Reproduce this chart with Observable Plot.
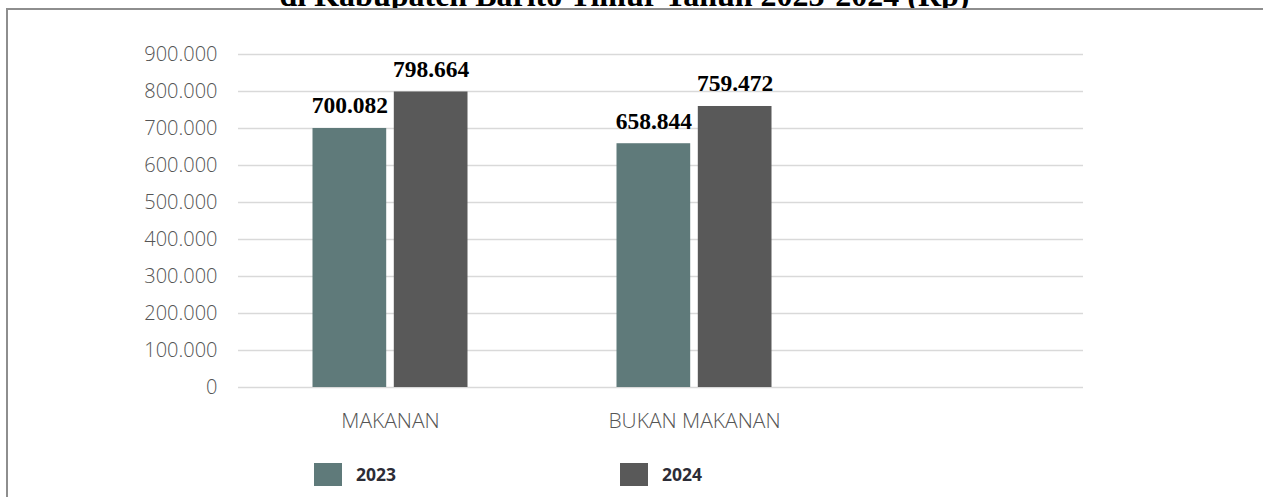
<!DOCTYPE html>
<html>
<head>
<meta charset="utf-8">
<script src="https://cdn.jsdelivr.net/npm/d3@7"></script>
<script src="https://cdn.jsdelivr.net/npm/@observablehq/plot@0.6"></script>
<style>
  html, body { margin: 0; padding: 0; background: #fff; width: 1263px; height: 497px; overflow: hidden; }
  #title { position: absolute; left: 0; top: -21px; width: 1249px; text-align: center; white-space: nowrap;
           font: bold 32px/32px "Liberation Serif", "Times New Roman", serif; color: #000; z-index: 1; }
  #box { position: absolute; left: 6px; top: 8px; width: 1400px; height: 700px; border: 2px solid #8e8e8e;
         background: #fff; z-index: 2; }
  #chart { position: absolute; left: 0; top: 0; z-index: 3; }
  #legend { position: absolute; left: 314px; top: 462px; display: flex; z-index: 4;
            font: bold 17.5px "Open Sans", "Noto Sans", sans-serif; color: #2c2c36; }
  .item { display: flex; align-items: center; width: 306px; }
  .sw { width: 28px; height: 23px; margin-right: 14px; }
</style>
</head>
<body>
<div id="title">di Kabupaten Barito Timur Tahun 2023-2024 (Rp)</div>
<div id="box"></div>
<div id="chart"></div>
<div id="legend"></div>
<script>
const categories = ["MAKANAN", "BUKAN MAKANAN"];
const years = ["2023", "2024"];
const values2023 = [700082, 658844];
const values2024 = [798664, 759472];
const yTicks = [0, 100000, 200000, 300000, 400000, 500000, 600000, 700000, 800000, 900000];
const yearColors = ["#5f7a7a", "#595959"];

const series = {"2023": values2023, "2024": values2024};
const data = categories.flatMap((c, i) => years.map(y => ({category: c, year: y, value: series[y][i]})));
const fmt = v => v.toLocaleString("id-ID");

const W = 1263, H = 497;
const band = 304.3, barW = 74, gap = 7.3;
const half = band / 2;
const insets = {
  "2023": {insetLeft: half - gap / 2 - barW, insetRight: half + gap / 2},
  "2024": {insetLeft: half + gap / 2, insetRight: half - gap / 2 - barW}
};
const offs = {"2023": -(gap / 2 + barW / 2), "2024": gap / 2 + barW / 2};

const marks = [
  Plot.gridY(yTicks, {stroke: "#d9d9d9", strokeOpacity: 1, strokeWidth: 1.5}),
  Plot.axisY({ticks: yTicks, tickSize: 0, tickPadding: 21, tickFormat: fmt, fontSize: 20,
              fontFamily: "'Open Sans', sans-serif", fontWeight: 300, fill: "#555555", label: null}),
  Plot.axisX({tickSize: 0, tickPadding: 26, fontSize: 21, fontFamily: "'Open Sans', sans-serif",
              fontWeight: 300, fill: "#555555", label: null})
];
years.forEach((yr, k) => {
  const d = data.filter(r => r.year === yr);
  marks.push(Plot.barY(d, {x: "category", y: "value", fill: yearColors[k], ...insets[yr]}));
  marks.push(Plot.text(d, {x: "category", y: "value", text: r => fmt(r.value), dx: offs[yr], dy: -15,
    lineAnchor: "bottom", fontFamily: "'Liberation Serif', 'Times New Roman', serif", fontWeight: "bold",
    fontSize: 23.5, fill: "#000"}));
});

const chart = Plot.plot({
  width: W, height: H,
  marginTop: 54, marginBottom: 110, marginLeft: 238, marginRight: 180,
  style: {background: "transparent", overflow: "visible"},
  x: {type: "band", domain: categories, range: [238, 238 + 2 * band], padding: 0},
  y: {domain: [0, 900000]},
  marks
});
document.getElementById("chart").appendChild(chart);

const legend = document.getElementById("legend");
years.forEach((yr, k) => {
  const it = document.createElement("div");
  it.className = "item";
  const sw = document.createElement("div");
  sw.className = "sw";
  sw.style.background = yearColors[k];
  const t = document.createElement("span");
  t.textContent = yr;
  it.appendChild(sw); it.appendChild(t);
  legend.appendChild(it);
});
</script>
</body>
</html>
